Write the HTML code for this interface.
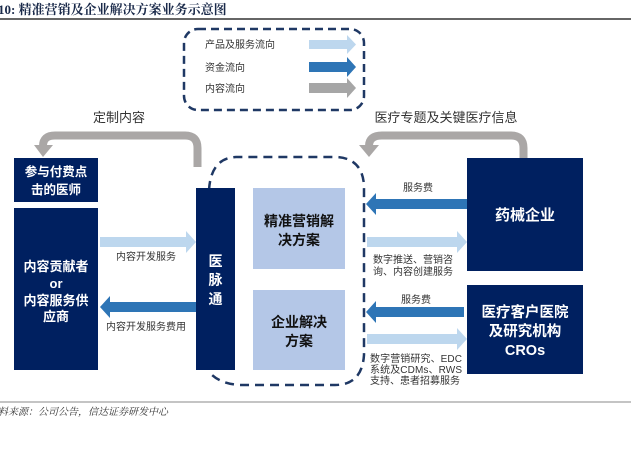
<!DOCTYPE html>
<html><head><meta charset="utf-8"><style>
html,body{margin:0;padding:0;background:#fff;}
svg{display:block;}
text{font-family:"Liberation Sans","Noto Sans CJK SC",sans-serif;}
</style></head><body>
<svg width="631" height="455" viewBox="0 0 631 455" xmlns="http://www.w3.org/2000/svg">
<text x="-2" y="14" font-size="13" font-weight="bold" fill="#1a2a4a" style="font-family:'Liberation Serif','Noto Serif CJK SC',serif">10: 精准营销及企业解决方案业务示意图</text>
<line x1="0" y1="19" x2="631" y2="19" stroke="#333" stroke-width="1.5"/>

<!-- legend -->
<rect x="184" y="29" width="180" height="81" rx="14" fill="none" stroke="#1f3864" stroke-width="2.5" stroke-dasharray="8,5"/>
<text x="205" y="48" font-size="10" fill="#333">产品及服务流向</text>
<text x="205" y="71" font-size="10" fill="#333">资金流向</text>
<text x="205" y="92" font-size="10" fill="#333">内容流向</text>
<polygon points="309,40 347,40 347,35 356,44.5 347,54 347,49 309,49" fill="#bdd7ee"/>
<polygon points="309,62 347,62 347,57 356,67 347,77 347,72 309,72" fill="#2e75b6"/>
<polygon points="309,83 347,83 347,78 356,88 347,98 347,93 309,93" fill="#a6a6a6"/>

<text x="119" y="122" font-size="13" fill="#333" text-anchor="middle">定制内容</text>
<text x="446" y="122" font-size="13" fill="#333" text-anchor="middle">医疗专题及关键医疗信息</text>

<!-- curved arrows -->
<path d="M197.5,167 L197.5,148 Q197.5,135.5 185,135.5 L55,135.5 Q43,135.5 43,146" fill="none" stroke="#aaa7a6" stroke-width="8"/>
<polygon points="34,145 53,145 43,157" fill="#aaa7a6"/>
<path d="M523.5,158 L523.5,148 Q523.5,135.5 511,135.5 L382,135.5 Q369,135.5 369,146" fill="none" stroke="#aaa7a6" stroke-width="8"/>
<polygon points="359,145 379,145 369,157" fill="#aaa7a6"/>

<!-- center dashed -->
<path d="M209,190 Q211,158 236,157 L336,157 Q362,158 364,185 L364,355 Q362,385 335,385 L240,385 Q222,384 212,375" fill="none" stroke="#1f3864" stroke-width="2.5" stroke-dasharray="9,6"/>

<!-- boxes -->
<rect x="14" y="158" width="84" height="44" fill="#002060"/>
<text x="56" y="176" font-size="12.5" font-weight="bold" fill="#fff" text-anchor="middle">参与付费点</text>
<text x="56" y="194" font-size="12.5" font-weight="bold" fill="#fff" text-anchor="middle">击的医师</text>

<rect x="14" y="208" width="84" height="162" fill="#002060"/>
<text x="56" y="271" font-size="13" font-weight="bold" fill="#fff" text-anchor="middle">内容贡献者</text>
<text x="56" y="288" font-size="13" font-weight="bold" fill="#fff" text-anchor="middle">or</text>
<text x="56" y="305" font-size="13" font-weight="bold" fill="#fff" text-anchor="middle">内容服务供</text>
<text x="56" y="321" font-size="13" font-weight="bold" fill="#fff" text-anchor="middle">应商</text>

<rect x="196" y="188" width="39" height="182" fill="#002060"/>
<text x="215.5" y="266" font-size="14" font-weight="bold" fill="#fff" text-anchor="middle">医</text>
<text x="215.5" y="285" font-size="14" font-weight="bold" fill="#fff" text-anchor="middle">脉</text>
<text x="215.5" y="304" font-size="14" font-weight="bold" fill="#fff" text-anchor="middle">通</text>

<rect x="253" y="188" width="92" height="81" fill="#b4c7e7"/>
<text x="299" y="226" font-size="14" font-weight="bold" fill="#111" text-anchor="middle">精准营销解</text>
<text x="299" y="245" font-size="14" font-weight="bold" fill="#111" text-anchor="middle">决方案</text>

<rect x="253" y="290" width="92" height="80" fill="#b4c7e7"/>
<text x="299" y="327" font-size="14" font-weight="bold" fill="#111" text-anchor="middle">企业解决</text>
<text x="299" y="346" font-size="14" font-weight="bold" fill="#111" text-anchor="middle">方案</text>

<rect x="467" y="158" width="116" height="113" fill="#002060"/>
<text x="525" y="220" font-size="15" font-weight="bold" fill="#fff" text-anchor="middle">药械企业</text>

<rect x="467" y="285" width="116" height="89" fill="#002060"/>
<text x="525" y="317" font-size="14.5" font-weight="bold" fill="#fff" text-anchor="middle">医疗客户医院</text>
<text x="525" y="336" font-size="14.5" font-weight="bold" fill="#fff" text-anchor="middle">及研究机构</text>
<text x="525" y="355" font-size="14.5" font-weight="bold" fill="#fff" text-anchor="middle">CROs</text>

<!-- left arrows -->
<polygon points="100,237 186,237 186,231 196,242 186,253 186,247 100,247" fill="#bdd7ee"/>
<text x="146" y="260" font-size="10" fill="#333" text-anchor="middle">内容开发服务</text>
<polygon points="196,302 110,302 110,296 100,307 110,318 110,312 196,312" fill="#2e75b6"/>
<text x="146" y="330" font-size="10" fill="#333" text-anchor="middle">内容开发服务费用</text>

<!-- right arrows -->
<text x="418" y="191" font-size="10" fill="#333" text-anchor="middle">服务费</text>
<polygon points="467,199 376,199 376,193 366,204 376,215 376,209 467,209" fill="#2e75b6"/>
<polygon points="367,237 457,237 457,231 467,242 457,253 457,247 367,247" fill="#bdd7ee"/>
<text x="373" y="263" font-size="10" fill="#333">数字推送、营销咨</text>
<text x="373" y="275" font-size="10" fill="#333">询、内容创建服务</text>

<text x="416" y="303" font-size="10" fill="#333" text-anchor="middle">服务费</text>
<polygon points="464,307 376,307 376,301 366,312 376,323 376,317 464,317" fill="#2e75b6"/>
<polygon points="367,334 457,334 457,328 467,339 457,350 457,344 367,344" fill="#bdd7ee"/>
<text x="370" y="362" font-size="10" fill="#333" textLength="92">数字营销研究、EDC</text>
<text x="370" y="373" font-size="10" fill="#333" textLength="92">系统及CDMs、RWS</text>
<text x="370" y="384" font-size="10" fill="#333">支持、患者招募服务</text>

<line x1="0" y1="402" x2="631" y2="402" stroke="#888" stroke-width="1"/>
<text x="-2" y="415" font-size="10" font-style="italic" fill="#333" style="font-family:'Liberation Serif','Noto Serif CJK SC',serif">料来源：公司公告，信达证券研发中心</text>
</svg>
</body></html>
